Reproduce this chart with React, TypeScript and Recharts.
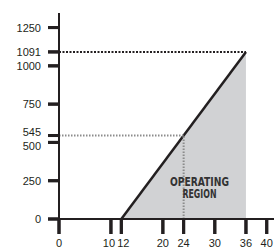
import React from "react";
import {
    ComposedChart,
    Area,
    XAxis,
    YAxis,
    ReferenceLine,
    ReferenceDot,
} from "recharts";

// operating line: starts at 12, reaches the max at 36
const lineX = [12, 36];
const lineY = [0, 1091];

const xTicks = [0, 10, 12, 20, 24, 30, 36, 40];
const yTicks = [0, 250, 500, 545, 750, 1000, 1091, 1250];

const maxPoint = { x: 36, y: 1091 };
const midPoint = { x: 24, y: 545 };

const data = lineX.map((x, i) => ({ x, y: lineY[i] }));

const INK = "#231f20";
const FONT = "'Liberation Sans', Arial, sans-serif";

// tick labels that sit too close on a linear scale get pushed apart a bit
const yNudge: Record<number, number> = { 545: -4, 500: 4 };
const xNudge: Record<number, number> = { 10: -2, 12: 2 };

const YTick = (props: any) => {
    const { x, y, payload } = props;
    const dy = yNudge[payload.value] || 0;
    return (
        <g>
            <rect x={x + 7} y={y - 1.5} width={12} height={3} fill={INK} />
            <text
                x={x}
                y={y + dy}
                textAnchor="end"
                dominantBaseline="central"
                fontSize={11}
                fontFamily={FONT}
                fill={INK}
            >
                {payload.value}
            </text>
        </g>
    );
};

const XTick = (props: any) => {
    const { x, y, payload } = props;
    const dx = xNudge[payload.value] || 0;
    return (
        <g>
            <rect x={x - 1.5} y={y - 17} width={3} height={15} fill={INK} />
            <text
                x={x + dx}
                y={y + 11}
                textAnchor="middle"
                fontSize={11}
                fontFamily={FONT}
                fill={INK}
            >
                {payload.value}
            </text>
        </g>
    );
};

const RegionLabel = (props: any) => {
    const { viewBox } = props;
    const cx = viewBox.x + (viewBox.width || 0) / 2;
    const cy = viewBox.y + (viewBox.height || 0) / 2;
    const style = {
        fontSize: 13,
        fontWeight: "bold" as const,
        fontFamily: "'Liberation Sans Narrow', 'DejaVu Sans Condensed', sans-serif",
        fill: "#333",
    };
    return (
        <g>
            <text
                x={cx}
                y={cy}
                textAnchor="middle"
                textLength={59}
                lengthAdjust="spacingAndGlyphs"
                style={style}
            >
                OPERATING
            </text>
            <text
                x={cx}
                y={cy + 11.5}
                textAnchor="middle"
                textLength={34}
                lengthAdjust="spacingAndGlyphs"
                style={style}
            >
                REGION
            </text>
        </g>
    );
};

const App = () => {
    return (
        <div style={{ position: "absolute", left: 0, top: 0, background: "#fff" }}>
            <ComposedChart
                width={274}
                height={249}
                data={data}
                margin={{ top: 13, right: 0, left: 0, bottom: 0 }}
                style={{ overflow: "visible" }}
            >
                <XAxis
                    type="number"
                    dataKey="x"
                    domain={[0, 41.4]}
                    ticks={xTicks}
                    interval={0}
                    height={30}
                    tickSize={15}
                    tickMargin={2}
                    axisLine={{ stroke: INK, strokeWidth: 2 }}
                    tickLine={{ stroke: INK, strokeWidth: 3 }}
                    tick={<XTick />}
                />
                <YAxis
                    type="number"
                    domain={[0, 1345]}
                    ticks={yTicks}
                    interval={0}
                    width={59}
                    tickSize={11}
                    tickMargin={7}
                    axisLine={{ stroke: INK, strokeWidth: 2 }}
                    tickLine={{ stroke: INK, strokeWidth: 3 }}
                    tick={<YTick />}
                />
                <Area
                    type="linear"
                    dataKey="y"
                    baseValue={0}
                    stroke={INK}
                    strokeWidth={2.5}
                    fill="#d1d2d4"
                    fillOpacity={1}
                    dot={false}
                    activeDot={false}
                    isAnimationActive={false}
                />
                <ReferenceLine
                    segment={[
                        { x: 0, y: midPoint.y },
                        { x: midPoint.x, y: midPoint.y },
                    ]}
                    stroke="#8c8c8c"
                    strokeWidth={2}
                    strokeDasharray="1.5 1.5"
                />
                <ReferenceLine
                    segment={[
                        { x: midPoint.x, y: 0 },
                        { x: midPoint.x, y: midPoint.y },
                    ]}
                    stroke="#8c8c8c"
                    strokeWidth={2}
                    strokeDasharray="1.5 1.5"
                />
                <ReferenceLine
                    segment={[
                        { x: 0, y: maxPoint.y },
                        { x: maxPoint.x, y: maxPoint.y },
                    ]}
                    stroke={INK}
                    strokeWidth={2}
                    strokeDasharray="2 1.5"
                />
                <ReferenceDot
                    x={27.05}
                    y={215}
                    r={0}
                    stroke="none"
                    label={<RegionLabel />}
                />
            </ComposedChart>
        </div>
    );
};

export default App;
